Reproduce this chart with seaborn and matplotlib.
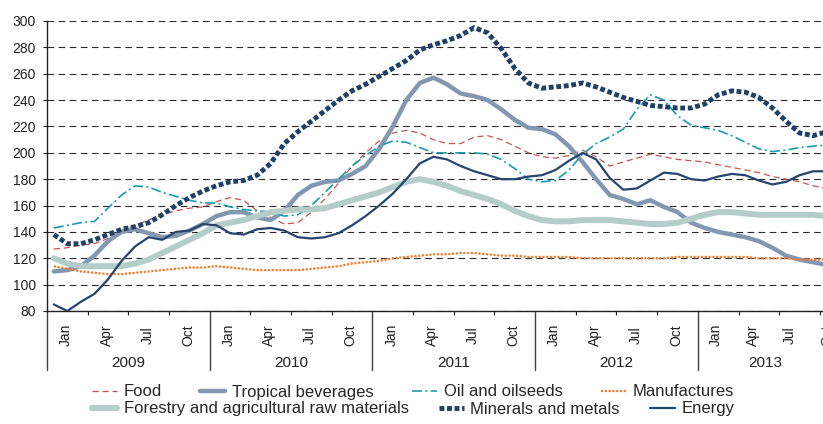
import numpy as np
import pandas as pd
import matplotlib.pyplot as plt
import matplotlib.transforms as mtransforms
import seaborn as sns

sns.set_style('white')
plt.rcParams['font.family'] = ['Liberation Sans', 'DejaVu Sans']

# monthly index values, Jan 2009 - Oct 2013
months = pd.date_range('2009-01-01', '2013-10-01', freq='MS')
years = ['2009', '2010', '2011', '2012', '2013']
quarter_labels = ['Jan', 'Apr', 'Jul', 'Oct']

food = [127, 128, 130, 131, 135, 141, 145, 149, 153, 156, 158, 159,
        163, 166, 164, 156, 151, 146, 147, 155, 165, 177, 190, 200,
        209, 215, 217, 215, 210, 207, 207, 212, 213, 210, 205, 200,
        197, 196, 198, 202, 197, 190, 193, 196, 199, 197, 195, 194,
        193, 191, 189, 187, 185, 182, 180, 178, 175, 173]
tropical = [110, 111, 114, 122, 133, 140, 142, 139, 136, 137, 141, 146,
            152, 155, 155, 151, 149, 156, 168, 175, 178, 179, 184, 190,
            203, 220, 240, 253, 257, 252, 245, 243, 240, 233, 225, 219,
            218, 214, 205, 193, 180, 168, 165, 161, 164, 159, 155, 147,
            143, 140, 138, 136, 133, 128, 122, 119, 117, 115]
oil = [143, 145, 147, 148, 158, 168, 175, 174, 170, 167, 164, 162,
       162, 159, 157, 156, 155, 152, 153, 160, 170, 180, 190, 198,
       205, 209, 208, 204, 200, 200, 200, 200, 199, 195, 188, 180,
       178, 179, 187, 199, 207, 212, 218, 233, 244, 240, 228, 221,
       219, 217, 213, 208, 203, 201, 202, 204, 205, 206]
manufactures = [114, 112, 110, 109, 108, 108, 109, 110, 111, 112, 113, 113,
                114, 113, 112, 111, 111, 111, 111, 112, 113, 114, 116, 117,
                118, 120, 121, 122, 123, 123, 124, 124, 123, 122, 122, 121,
                121, 121, 121, 120, 120, 120, 120, 120, 120, 120, 121, 121,
                121, 121, 121, 121, 120, 120, 120, 119, 119, 119]
forestry = [120, 116, 114, 114, 114, 114, 116, 119, 124, 129, 134, 139,
            145, 147, 149, 152, 155, 156, 157, 157, 158, 161, 164, 167,
            170, 174, 178, 180, 178, 175, 171, 168, 165, 161, 156, 152,
            149, 148, 148, 149, 149, 149, 148, 147, 146, 146, 147, 150,
            153, 155, 155, 154, 153, 153, 153, 153, 153, 152]
minerals = [138, 131, 131, 134, 138, 142, 144, 147, 153, 160, 166, 171,
            175, 178, 179, 183, 192, 207, 216, 224, 232, 240, 247, 252,
            258, 264, 270, 278, 282, 285, 289, 295, 291, 279, 264, 253,
            249, 250, 251, 253, 250, 246, 242, 239, 236, 235, 234, 234,
            237, 244, 247, 246, 242, 234, 224, 215, 213, 216]
energy = [85, 80, 87, 93, 104, 118, 129, 136, 134, 140, 141, 146,
          145, 139, 138, 142, 143, 141, 136, 135, 136, 139, 145, 152,
          160, 169, 180, 192, 197, 195, 190, 186, 183, 180, 180, 182,
          183, 187, 194, 200, 195, 181, 172, 173, 179, 185, 184, 180,
          179, 182, 184, 183, 179, 176, 178, 183, 186, 186]

series = {
    'Food': food,
    'Tropical beverages': tropical,
    'Oil and oilseeds': oil,
    'Manufactures': manufactures,
    'Forestry and agricultural raw materials': forestry,
    'Minerals and metals': minerals,
    'Energy': energy,
}

styles = {
    'Food': dict(color='#c9544e', lw=0.9, ls=(0, (5, 3))),
    'Tropical beverages': dict(color='#8497b0', lw=3.2, ls='-'),
    'Oil and oilseeds': dict(color='#1a9cb0', lw=1.2, ls=(0, (6, 2, 1.2, 2))),
    'Manufactures': dict(color='#f07d2e', lw=1.6, ls=(0, (1, 0.7))),
    'Forestry and agricultural raw materials': dict(color='#b4cdc8', lw=4.3, ls='-'),
    'Minerals and metals': dict(color='#1f4168', lw=3.5, ls=(0, (1, 0.55))),
    'Energy': dict(color='#26456e', lw=1.6, ls='-'),
}

x = np.arange(len(months)) + 0.5

fig = plt.figure(figsize=(8.23, 4.24), dpi=100)
ax = fig.add_axes([47 / 823, 113 / 424, 776 / 823, 290 / 424])

for name, vals in series.items():
    st = styles[name]
    sns.lineplot(x=x, y=vals, ax=ax, color=st['color'], linewidth=st['lw'],
                 linestyle=st['ls'], dash_capstyle='butt', label=name,
                 legend=False, errorbar=None)

ax.set_xlim(0, 57.23)
ax.set_ylim(80, 300)
ax.set_xlabel('')
ax.set_ylabel('')

# dashed horizontal grid
ax.set_yticks(range(80, 301, 20))
ax.yaxis.grid(True, linestyle=(0, (6, 4)), color='#2a2a2a', linewidth=0.8)
ax.xaxis.grid(False)
ax.set_axisbelow(True)
ax.tick_params(axis='y', left=True, length=3, width=0.8, color='#222222',
               labelsize=10, labelcolor='#222222', pad=5)

# quarter tick marks (year boundaries get long separators instead)
ax.set_xticks([b for b in range(3, 58, 3) if b % 12])
ax.tick_params(axis='x', bottom=True, length=3, width=0.8, color='#222222',
               labelbottom=False, direction='out')

for side in ['top', 'right']:
    ax.spines[side].set_visible(False)
for side in ['left', 'bottom']:
    ax.spines[side].set_color('#222222')
    ax.spines[side].set_linewidth(1.0)

trans = mtransforms.blended_transform_factory(ax.transData, ax.transAxes)
n = len(months)
for yi, yr in enumerate(years):
    start = 12 * yi
    ax.plot([start, start], [0, -0.203], transform=trans, color='#404040',
            lw=1.0, clip_on=False)
    nm = min(12, n - start)
    ax.text(start + nm / 2, -0.179, yr, transform=trans, ha='center',
            va='center', fontsize=11, color='#222222')
    # last (partial) year: labels squeezed a little, like the original axis
    step = 3 if nm == 12 else 2.75
    first = 1.4 if nm == 12 else 1.3
    for q, lab in enumerate(quarter_labels):
        if start + 3 * q < n:
            ax.text(start + first + step * q, -0.083, lab, transform=trans,
                    rotation=90, ha='center', va='center', fontsize=10,
                    color='#222222')

handles, labels = ax.get_legend_handles_labels()
leg_kw = dict(frameon=False, fontsize=12, handlelength=1.5, handletextpad=0.4,
              borderpad=0, borderaxespad=0, labelcolor='#262626')
fig.legend(handles[:4], labels[:4], loc='center left',
           bbox_to_anchor=(92 / 823, 32 / 424), ncol=4,
           columnspacing=2.3, **leg_kw)
fig.legend(handles[4:], labels[4:], loc='center left',
           bbox_to_anchor=(92 / 823, 15 / 424), ncol=3,
           columnspacing=1.8, **leg_kw)

fig.savefig('out.png', dpi=100)
